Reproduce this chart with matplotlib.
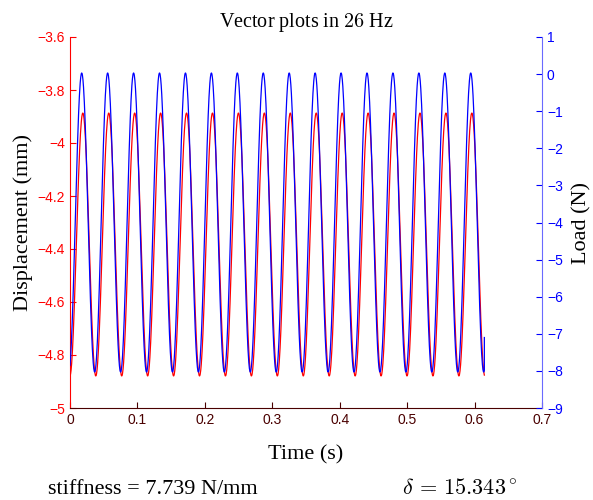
import numpy as np
import matplotlib
matplotlib.use("Agg")
import matplotlib.pyplot as plt

# values
FREQ_HZ     = 26.0
DELTA_DEG   = 15.343
STIFFNESS   = 7.739
T_END       = 0.6145
LOAD_PEAK   = 0.03      # N
LOAD_TROUGH = -8.03
LOAD_LAST   = -7.1      # last sample jumps up
LOAD_T_PEAK = 0.0174    # time of first load peak (s)
DISP_PEAK   = -3.887    # mm
DISP_TROUGH = -4.879

x_ticks     = [0, 0.1, 0.2, 0.3, 0.4, 0.5, 0.6, 0.7]
left_ticks  = [-5, -4.8, -4.6, -4.4, -4.2, -4, -3.8, -3.6]
right_ticks = [-9, -8, -7, -6, -5, -4, -3, -2, -1, 0, 1]

plt.rcParams['font.family'] = ['Liberation Sans', 'DejaVu Sans']
plt.rcParams['mathtext.fontset'] = 'cm'
SERIF = ['Liberation Serif', 'DejaVu Serif']

# sampled sinusoids built from the read parameters
t = np.linspace(0, T_END, 1500)
lag = DELTA_DEG / 360.0 / FREQ_HZ
load = (LOAD_PEAK + LOAD_TROUGH) / 2 + (LOAD_PEAK - LOAD_TROUGH) / 2 * np.cos(2 * np.pi * FREQ_HZ * (t - LOAD_T_PEAK))
disp = (DISP_PEAK + DISP_TROUGH) / 2 + (DISP_PEAK - DISP_TROUGH) / 2 * np.cos(2 * np.pi * FREQ_HZ * (t - LOAD_T_PEAK - lag))
t_load = np.append(t, T_END)
load = np.append(load, LOAD_LAST)

fig = plt.figure(figsize=(5.93, 5.0), dpi=100)
ax = fig.add_axes([0.118, 0.184, 0.796, 0.742])
ax2 = ax.twinx()

dark = '#4a0000'
ax.plot(t, disp, color='red', lw=0.9)
ax2.plot(t_load, load, color='blue', lw=0.9)

ax.set_xlim(0, 0.7)
ax.set_ylim(-5, -3.6)
ax2.set_ylim(-9, 1)
ax.set_xticks(x_ticks)
ax.set_xticklabels([f"{v:g}" for v in x_ticks])
ax.set_yticks(left_ticks)
ax.set_yticklabels([f"{v:g}".replace('-', '\u2212') for v in left_ticks])
ax2.set_yticks(right_ticks)

for s in ['top', 'right']:
    ax.spines[s].set_visible(False)
for s in ['top', 'left', 'bottom']:
    ax2.spines[s].set_visible(False)
ax.spines['left'].set_color('red')
ax.spines['bottom'].set_color(dark)
ax2.spines['right'].set_color('#6a6aff')

ax.tick_params(axis='y', direction='in', colors='red', labelsize=10, length=4)
ax.tick_params(axis='x', direction='in', colors=dark, labelsize=10, length=4)
ax2.tick_params(axis='y', direction='in', colors='blue', labelsize=10, length=4)

ax.set_xlabel('Time (s)', family=SERIF, fontsize=16, labelpad=13)
ax.set_ylabel('Displacement (mm)', family=SERIF, fontsize=16, labelpad=3)
ax2.set_ylabel('Load (N)', family=SERIF, fontsize=16, labelpad=7)
ax.set_title('Vector plots in $26$ Hz', family=SERIF, fontsize=14.5, pad=7)

fig.text(0.081, 0.012, f'stiffness = {STIFFNESS} N/mm', family=SERIF, fontsize=16)
fig.text(0.678, 0.012, rf'$\delta \,=\, {DELTA_DEG}^\circ$', fontsize=16)

fig.savefig('out.png', dpi=100)
